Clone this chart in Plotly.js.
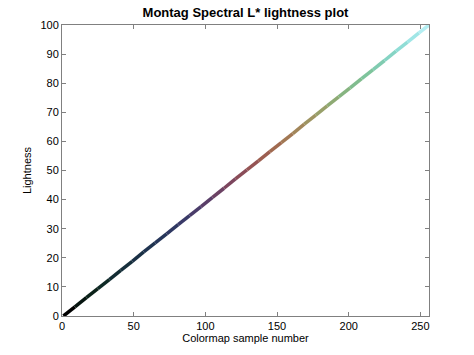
<!DOCTYPE html>
<html>
<head>
<meta charset="utf-8">
<script src="https://cdn.plot.ly/plotly-3.0.1.min.js"></script>
<style>html,body{margin:0;padding:0;background:#fff;}#chart{width:474px;height:355px;}</style>
</head>
<body>
<div id="chart"></div>
<script>
// Colormap sample numbers
var samples = [1, 9, 17, 25, 33, 41, 49, 57, 65, 73, 81, 89, 97, 105, 113, 121, 129,
               137, 145, 153, 161, 169, 177, 185, 193, 201, 209, 217, 225, 233, 241, 249, 256];
// L* lightness at those samples
var lightness = [0, 3.1, 6.3, 9.4, 12.5, 15.7, 18.8, 22.0, 25.1, 28.2, 31.4, 34.5, 37.6,
                 40.8, 43.9, 47.1, 50.2, 53.3, 56.5, 59.6, 62.7, 65.9, 69.0, 72.2, 75.3,
                 78.4, 81.6, 84.7, 87.8, 91.0, 94.1, 97.3, 100];
// colour of the colormap at those samples
var sampleColors = ['#000000', '#061510', '#0b2219', '#0f2a26', '#132c33', '#162f3c', '#1a3045',
                    '#1f3350', '#26365a', '#2f3862', '#3a3a68', '#4a3c6a', '#5a3e68', '#6c4264',
                    '#7c465e', '#8a4c58', '#955454', '#9c5e50', '#a06a50', '#a27854', '#a2865a',
                    '#9e9462', '#98a06a', '#8eaa74', '#86b480', '#80bc8e', '#7ec49c', '#80cbb0',
                    '#86d4c4', '#90ddd6', '#a0e6e6', '#b4eef2', '#c8f4f8'];
var xTicks = [0, 50, 100, 150, 200, 250];
var yTicks = [0, 10, 20, 30, 40, 50, 60, 70, 80, 90, 100];

var traces = [];
for (var i = 0; i < samples.length - 1; i++) {
  traces.push({
    type: 'scatter', mode: 'lines',
    x: [samples[i], samples[i + 1]],
    y: [lightness[i], lightness[i + 1]],
    line: {color: sampleColors[i], width: 3.5},
    hoverinfo: 'skip', showlegend: false
  });
}

var axisCommon = {
  showgrid: false, zeroline: false, showline: true, linecolor: '#808080', linewidth: 1,
  mirror: 'ticks', ticks: 'inside', ticklen: 4, tickcolor: '#808080',
  tickfont: {family: 'Liberation Sans, Arial, sans-serif', size: 11, color: '#000'}
};

var layout = {
  width: 474, height: 355,
  margin: {l: 62, r: 45, t: 25, b: 39},
  paper_bgcolor: '#fff', plot_bgcolor: '#fff',
  title: {text: '<b>Montag Spectral L* lightness plot</b>',
          font: {family: 'Liberation Sans, Arial, sans-serif', size: 13, color: '#000'},
          x: 0.5, xref: 'paper', y: 1 - 12 / 355, yref: 'container', yanchor: 'middle'},
  xaxis: Object.assign({}, axisCommon, {
    range: [0, 256], tickvals: xTicks, ticktext: xTicks.map(String),
    title: {text: 'Colormap sample number', standoff: 3,
            font: {family: 'Liberation Sans, Arial, sans-serif', size: 11, color: '#000'}}
  }),
  yaxis: Object.assign({}, axisCommon, {
    range: [0, 100], tickvals: yTicks, ticktext: yTicks.map(String),
    title: {text: 'Lightness', standoff: 6,
            font: {family: 'Liberation Sans, Arial, sans-serif', size: 11, color: '#000'}}
  })
};

Plotly.newPlot('chart', traces, layout, {staticPlot: true, displayModeBar: false});
</script>
</body>
</html>
